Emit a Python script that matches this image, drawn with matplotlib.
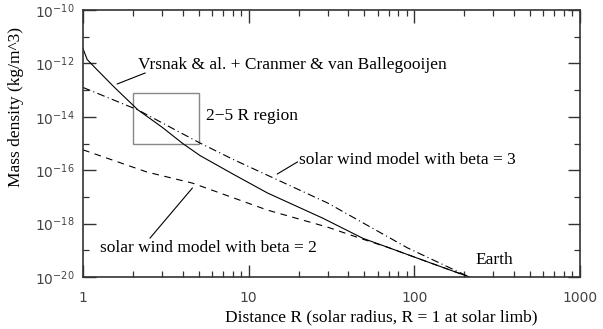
import matplotlib
matplotlib.use('Agg')
import matplotlib.pyplot as plt
from matplotlib.patches import Rectangle
from matplotlib.ticker import FixedLocator, LogFormatterMathtext, NullFormatter

plt.rcParams['mathtext.default'] = 'regular'

# distance (solar radii) and mass density (kg/m^3)
vrsnak_r = [1.0, 1.06, 1.2, 1.55, 2.15, 3.0, 4.0, 5.1, 8.0, 13, 28, 49, 69, 120, 215]
vrsnak_rho = [3.6e-12, 1.4e-12, 6.3e-13, 1.26e-13, 1.8e-14, 4.1e-15, 1.0e-15, 3.5e-16,
              7.3e-17, 1.4e-17, 1.6e-18, 2.8e-19, 1.3e-19, 3.7e-20, 1.0e-20]

beta3_r = [1.0, 2.15, 5.0, 8.1, 30, 91, 215]
beta3_rho = [1.26e-13, 1.8e-14, 1.1e-15, 2.5e-16, 5.9e-18, 1.23e-19, 1.0e-20]

beta2_r = [1.0, 2.44, 4.57, 13, 29.9, 49, 69, 120, 215]
beta2_rho = [5.8e-16, 8.5e-17, 3.3e-17, 3.2e-18, 7.4e-19, 2.6e-19, 1.3e-19, 3.7e-20, 1.0e-20]

region_r = [2, 5]
region_rho = [9.5e-16, 7.8e-14]

y_major = [1e-20, 1e-18, 1e-16, 1e-14, 1e-12, 1e-10]
y_minor = [1e-19, 1e-17, 1e-15, 1e-13, 1e-11]

serif = 'Liberation Serif'
fs = 12.5
axcol = '#333333'

fig = plt.figure(figsize=(6.03, 3.29), dpi=100)
ax = fig.add_axes([0.1376, 0.158, 0.8243, 0.8116])

ax.plot(vrsnak_r, vrsnak_rho, color='black', lw=0.8)
ax.plot(beta3_r, beta3_rho, color='black', lw=0.8, ls=(0, (7, 3, 1, 3)))
ax.plot(beta2_r, beta2_rho, color='black', lw=0.8, ls=(0, (6, 5)))

ax.add_patch(Rectangle((region_r[0], region_rho[0]), region_r[1] - region_r[0],
                       region_rho[1] - region_rho[0], fill=False,
                       edgecolor='#888888', lw=1.0))

ax.set_xscale('log')
ax.set_yscale('log')
ax.set_xlim(1, 1000)
ax.set_ylim(1e-20, 1e-10)

ax.yaxis.set_major_locator(FixedLocator(y_major))
ax.yaxis.set_minor_locator(FixedLocator(y_minor))
ax.yaxis.set_major_formatter(LogFormatterMathtext())
ax.yaxis.set_minor_formatter(NullFormatter())
ax.xaxis.set_major_locator(FixedLocator([1, 10, 100, 1000]))
ax.xaxis.set_major_formatter(plt.FuncFormatter(lambda v, p: '%d' % v))
ax.xaxis.set_minor_formatter(NullFormatter())

ax.tick_params(which='both', direction='in', top=True, right=True, colors=axcol)
ax.tick_params(which='major', length=9, width=1.0)
ax.tick_params(which='minor', length=4, width=0.9)
ax.tick_params(axis='x', which='major', pad=10, labelsize=10, labelcolor='#444444')
ax.tick_params(axis='y', which='major', pad=6, labelsize=10, labelcolor='#444444')
for lab in ax.get_xticklabels() + ax.get_yticklabels():
    lab.set_family('DejaVu Sans')
for s in ax.spines.values():
    s.set_color(axcol)
    s.set_linewidth(1.2)

fig.text(0.632, 0.035, 'Distance R (solar radius, R = 1 at solar limb)',
         family=serif, fontsize=fs, ha='center', va='center')
fig.text(0.026, 0.675, 'Mass density (kg/m^3)', family=serif, fontsize=fs,
         ha='center', va='center', rotation=90)

# annotations
ax.text(2.15, 10**-12.06, 'Vrsnak & al. + Cranmer & van Ballegooijen',
        family=serif, fontsize=fs, ha='left', va='center')
ax.plot([2.37, 1.61], [10**-12.36, 10**-12.77], color='black', lw=0.8)

ax.text(5.55, 10**-13.97, '2\u22125 R region', family=serif, fontsize=fs,
        ha='left', va='center')

ax.text(20, 10**-15.62, 'solar wind model with beta = 3', family=serif,
        fontsize=fs, ha='left', va='center')
ax.plot([19.7, 14.9], [10**-15.69, 10**-16.14], color='black', lw=0.8)

ax.text(1.27, 10**-18.91, 'solar wind model with beta = 2', family=serif,
        fontsize=fs, ha='left', va='center')
ax.plot([4.57, 2.54], [10**-16.67, 10**-18.54], color='black', lw=0.8)

ax.text(235, 10**-19.36, 'Earth', family=serif, fontsize=fs,
        ha='left', va='center')

fig.savefig('out.png', dpi=100)
